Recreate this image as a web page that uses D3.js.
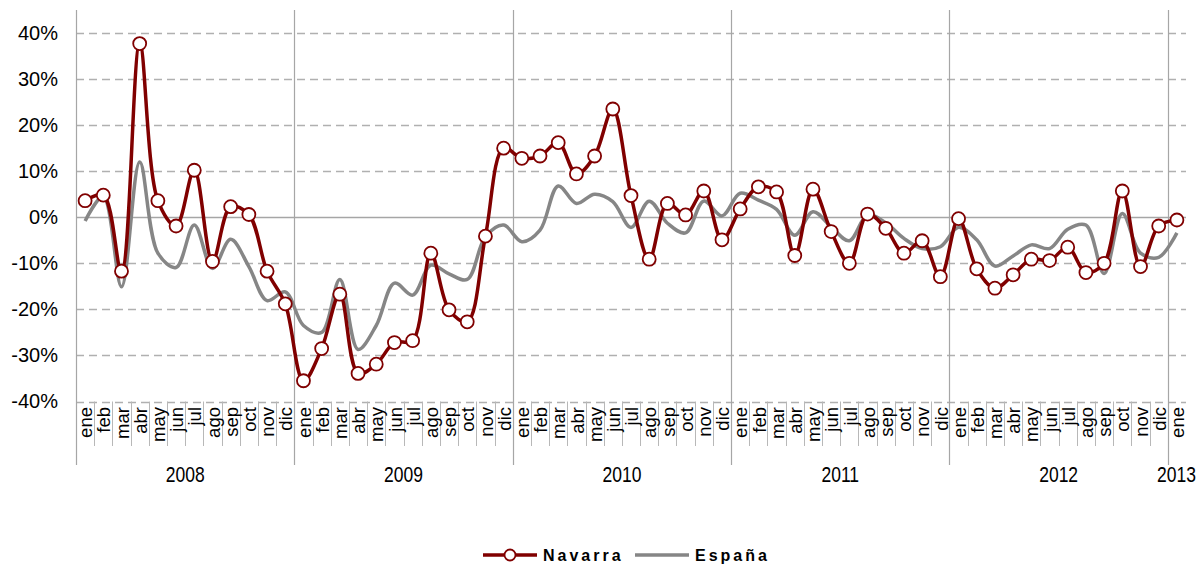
<!DOCTYPE html>
<html>
<head>
<meta charset="utf-8">
<script src="https://cdn.jsdelivr.net/npm/d3@7/dist/d3.min.js"></script>
<style>
  html, body { margin: 0; padding: 0; background: #fff; }
  svg { display: block; font-family: "Liberation Sans", Arial, sans-serif; }
</style>
</head>
<body>
<svg id="chart" width="1203" height="567"></svg>
<script>
// Monthly labels (ene 2008 … ene 2013)
const monthNames = ["ene","feb","mar","abr","may","jun","jul","ago","sep","oct","nov","dic"];
const years = ["2008","2009","2010","2011","2012","2013"];
const yTicks = [40, 30, 20, 10, 0, -10, -20, -30, -40];

// Year-on-year change, %
const navarra = [
  3.6, 4.8, -11.7, 37.7, 3.6, -1.9, 10.2, -9.6, 2.3, 0.6, -11.7, -18.8,
  -35.5, -28.5, -16.7, -33.9, -31.9, -27.2, -26.8, -7.8, -20.1, -22.7, -4.1, 15.0,
  12.8, 13.3, 16.2, 9.4, 13.3, 23.5, 4.7, -9.1, 3.0, 0.5, 5.7, -4.9,
  1.8, 6.6, 5.5, -8.3, 6.1, -3.1, -10.0, 0.7, -2.4, -7.8, -5.1, -12.9,
  -0.3, -11.2, -15.4, -12.5, -9.1, -9.4, -6.5, -12.0, -10.0, 5.7, -10.7, -1.9,
  -0.6
];
const espana = [
  -0.8, 4.5, -15.1, 12.0, -7.8, -10.9, -1.7, -11.1, -4.8, -10.7, -18.1, -16.2,
  -23.5, -25.0, -13.5, -28.7, -23.5, -14.3, -16.9, -10.4, -12.3, -13.5, -4.2, -1.7,
  -5.3, -2.8, 6.8, 3.0, 5.0, 3.4, -2.2, 3.5, -1.3, -3.4, 3.5, 0.3,
  5.2, 3.7, 1.7, -3.9, 1.2, -2.1, -5.1, 0.5, -1.2, -4.6, -6.8, -6.4,
  -2.2, -4.9, -10.6, -8.4, -6.0, -6.8, -2.6, -1.7, -12.2, 0.8, -7.8, -8.7,
  -3.4
];

const n = navarra.length;
const idx = d3.range(n);

const svg = d3.select("#chart");
const plotLeft = 76, plotRight = 1186, plotTop = 33, plotBottom = 401.5;
const frameTop = 10, frameBottom = 465;

const x = d3.scaleBand().domain(idx).range([plotLeft, plotRight]).paddingInner(0).paddingOuter(0);
const y = d3.scaleLinear().domain([-40, 40]).range([plotBottom, plotTop]);
const cx = i => x(i) + x.bandwidth() / 2;

// horizontal grid
const grid = svg.append("g");
grid.selectAll("line").data(yTicks).join("line")
  .attr("x1", plotLeft).attr("x2", plotRight)
  .attr("y1", d => Math.round(y(d)) + 0.5).attr("y2", d => Math.round(y(d)) + 0.5)
  .attr("stroke", d => d === 0 ? "#a6a6a6" : "#b0b0b0")
  .attr("stroke-width", 1.3)
  .attr("stroke-dasharray", d => d === 0 ? null : "8,5");

// y axis labels
const yAxis = d3.axisLeft(y).tickValues(yTicks).tickSize(0).tickPadding(18)
  .tickFormat(d => d + "%");
svg.append("g").attr("transform", `translate(${plotLeft},0)`).call(yAxis)
  .call(g => g.select(".domain").remove())
  .selectAll("text")
  .attr("font-size", 20).attr("fill", "#000")
  .attr("font-family", "'Liberation Sans', Arial, sans-serif");

// year separators + left axis line
const yearBounds = [0, 12, 24, 36, 48, 60];
svg.append("g").selectAll("line").data(yearBounds).join("line")
  .attr("x1", d => Math.round(x(d)) + 0.5).attr("x2", d => Math.round(x(d)) + 0.5)
  .attr("y1", frameTop).attr("y2", frameBottom)
  .attr("stroke", "#a6a6a6").attr("stroke-width", 1.2);

// month tick separators
svg.append("g").selectAll("line").data(idx.filter(i => i % 12 !== 0)).join("line")
  .attr("x1", d => Math.round(x(d)) + 0.5).attr("x2", d => Math.round(x(d)) + 0.5)
  .attr("y1", plotBottom).attr("y2", 446)
  .attr("stroke", "#b8b8b8").attr("stroke-width", 1);

// month labels (rotated)
svg.append("g").selectAll("text").data(idx).join("text")
  .attr("transform", i => `translate(${cx(i) + 0.5},407) rotate(-90)`)
  .attr("text-anchor", "end")
  .attr("dy", "0.36em")
  .attr("font-size", 18.5)
  .attr("fill", "#000")
  .text(i => monthNames[i % 12]);

// year labels
svg.append("g").selectAll("text").data(years).join("text")
  .attr("transform", (d, k) => {
    const xc = k < 5 ? (x(k * 12) + x(k * 12 + 11) + x.bandwidth()) / 2 : cx(60) - 0.5;
    return `translate(${xc},482) scale(1,1.22)`;
  })
  .attr("text-anchor", "middle")
  .attr("font-size", 17.5)
  .attr("fill", "#000")
  .text(d => d);

// series
const line = d3.line().x((d, i) => cx(i)).y(d => y(d)).curve(d3.curveCatmullRom.alpha(0.5));

svg.append("path").datum(espana)
  .attr("d", line).attr("fill", "none")
  .attr("stroke", "#868686").attr("stroke-width", 3.5).attr("stroke-linejoin", "round");

svg.append("path").datum(navarra)
  .attr("d", line).attr("fill", "none")
  .attr("stroke", "#800000").attr("stroke-width", 3.5).attr("stroke-linejoin", "round");

svg.append("g").selectAll("circle").data(navarra).join("circle")
  .attr("cx", (d, i) => cx(i)).attr("cy", d => y(d)).attr("r", 6.5)
  .attr("fill", "#fff").attr("stroke", "#800000").attr("stroke-width", 1.8);

// legend
const lg = svg.append("g").attr("transform", "translate(0,555)");
lg.append("line").attr("x1", 483).attr("x2", 537).attr("y1", 0).attr("y2", 0)
  .attr("stroke", "#800000").attr("stroke-width", 3.5);
lg.append("circle").attr("cx", 510).attr("cy", 0).attr("r", 5.5)
  .attr("fill", "#fff").attr("stroke", "#800000").attr("stroke-width", 1.8);
lg.append("text").attr("x", 543).attr("y", 0).attr("dy", "0.35em")
  .attr("font-size", 16).attr("font-weight", "bold").attr("letter-spacing", 3)
  .text("Navarra");
lg.append("line").attr("x1", 635).attr("x2", 689).attr("y1", 0).attr("y2", 0)
  .attr("stroke", "#868686").attr("stroke-width", 3.5);
lg.append("text").attr("x", 695).attr("y", 0).attr("dy", "0.35em")
  .attr("font-size", 16).attr("font-weight", "bold").attr("letter-spacing", 3)
  .text("España");
</script>
</body>
</html>
